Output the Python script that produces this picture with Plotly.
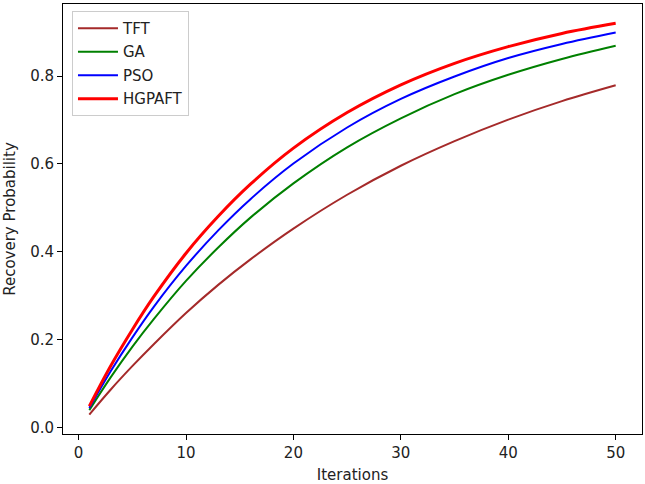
import plotly.graph_objects as go

iterations = [1, 3, 5, 7, 10, 13, 16, 20, 25, 30, 35, 40, 45, 50]
tft = [0.030, 0.087, 0.140, 0.190, 0.261, 0.325, 0.383, 0.453, 0.530, 0.596, 0.652, 0.701, 0.743, 0.779]
ga = [0.040, 0.115, 0.184, 0.247, 0.334, 0.410, 0.478, 0.556, 0.638, 0.704, 0.759, 0.803, 0.839, 0.869]
pso = [0.045, 0.129, 0.205, 0.275, 0.368, 0.449, 0.520, 0.601, 0.683, 0.748, 0.799, 0.841, 0.873, 0.899]
hgpaft = [0.049, 0.141, 0.223, 0.298, 0.397, 0.481, 0.554, 0.636, 0.717, 0.780, 0.829, 0.867, 0.897, 0.920]

series = [
    ("TFT", tft, "#a52a2a", 2),
    ("GA", ga, "#008000", 2),
    ("PSO", pso, "#0000ff", 2),
    ("HGPAFT", hgpaft, "#ff0000", 3),
]

fig = go.Figure()
for name, vals, color, w in series:
    fig.add_trace(go.Scatter(x=iterations, y=vals, mode="lines", name=name, legendgroup=name,
                             line=dict(color=color, width=w, shape="spline", smoothing=1.0)))

font = dict(family="DejaVu Sans", size=15, color="#222222")
axis_common = dict(showline=True, linecolor="black", linewidth=1, mirror=True,
                   ticks="outside", ticklen=5, tickcolor="black", showgrid=False,
                   zeroline=False, tickfont=font, automargin=False)

fig.update_layout(
    width=645, height=484,
    margin=dict(l=63, r=3, t=4, b=50),
    plot_bgcolor="white", paper_bgcolor="white",
    font=font,
    xaxis=dict(range=[-1.45, 52.45], dtick=10, tick0=0,
               title=dict(text="Iterations", font=font, standoff=9), **axis_common),
    yaxis=dict(range=[-0.0143, 0.964], dtick=0.2, tick0=0, tickformat=".1f",
               title=dict(text="Recovery Probability", font=font, standoff=10), **axis_common),
    legend=dict(x=0.0155, y=0.984, xanchor="left", yanchor="top",
                bgcolor="rgba(255,255,255,0.8)", bordercolor="#cccccc", borderwidth=1,
                font=font, traceorder="grouped", tracegroupgap=1, itemwidth=40),
    showlegend=True,
)

fig.write_html("out.html")
